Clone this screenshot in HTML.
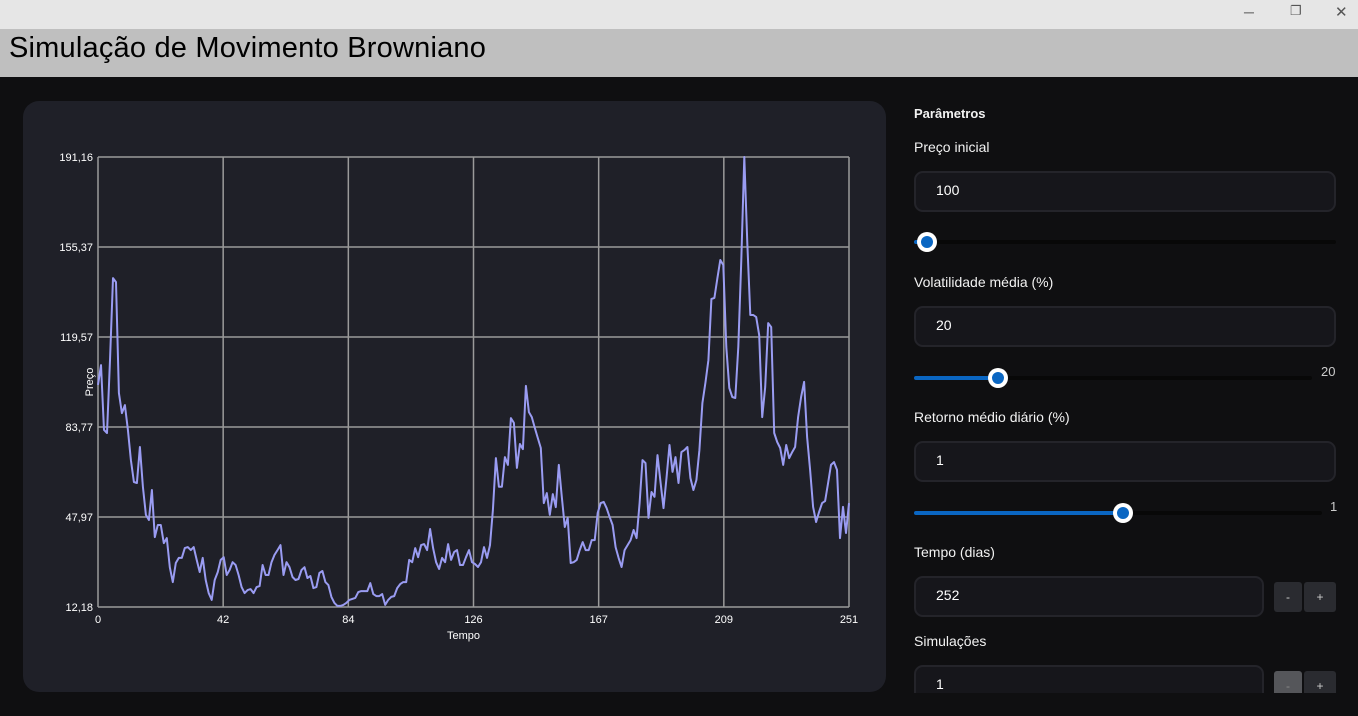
<!DOCTYPE html>
<html><head><meta charset="utf-8">
<style>
*{box-sizing:border-box;margin:0;padding:0}
body{width:1358px;height:716px;overflow:hidden;background:#0f0f11;font-family:"Segoe UI","Liberation Sans",sans-serif;position:relative;color:#fff}
.abs{position:absolute}
.lbl{position:absolute;left:914px;font-size:14px;color:#f2f2f2}
.inp{position:absolute;left:914px;width:422px;height:41px;background:#16161b;border:2px solid #24242a;border-radius:9px;font-size:14px;color:#fff;padding:9px 0 0 20px}
.track{position:absolute;height:4px;background:#080808;border-radius:2px}
.fill{position:absolute;height:4px;background:#0a66c2;border-radius:2px}
.thumb{position:absolute;width:20px;height:20px;border-radius:50%;background:#fff}
.thumb::after{content:"";position:absolute;left:4px;top:4px;width:12px;height:12px;border-radius:50%;background:#0a66c2}
.btn{position:absolute;width:28px;height:30px;background:#2a2b30;border-radius:3px;color:#ccc;font-size:12px;text-align:center;line-height:30px}
</style></head><body>
<div class="abs" style="left:0;top:0;width:1358px;height:29px;background:#e6e6e6">
<span class="abs" style="left:1244px;top:4px;color:#555;font-size:14px">─</span>
<span class="abs" style="left:1290px;top:3px;color:#555;font-size:13px">❐</span>
<span class="abs" style="left:1335px;top:3px;color:#555;font-size:15px">✕</span>
</div>
<div class="abs" style="left:0;top:29px;width:1358px;height:48px;background:#bfbfbf">
<div class="abs" style="left:9px;top:3px;font-size:29px;color:#000;letter-spacing:0.2px">Simulação de Movimento Browniano</div>
</div>
<div class="abs" style="left:23px;top:101px;width:863px;height:591px;background:#1f2028;border-radius:16px"></div>
<svg class="abs" id="chart" style="left:0;top:0" width="1358" height="716"></svg>

<div class="lbl" style="top:106px;font-weight:bold;font-size:13px">Parâmetros</div>
<div class="lbl" style="top:139px">Preço inicial</div>
<div class="inp" style="top:171px">100</div>
<div class="track" style="left:914px;top:240px;width:422px"></div>
<div class="fill" style="left:914px;top:240px;width:12px"></div>
<div class="thumb" style="left:917px;top:232px"></div>

<div class="lbl" style="top:274px">Volatilidade média (%)</div>
<div class="inp" style="top:306px">20</div>
<div class="track" style="left:914px;top:376px;width:398px"></div>
<div class="fill" style="left:914px;top:376px;width:84px"></div>
<div class="thumb" style="left:988px;top:368px"></div>
<div class="abs" style="left:1321px;top:364px;font-size:13px;color:#ccc">20</div>

<div class="lbl" style="top:409px">Retorno médio diário (%)</div>
<div class="inp" style="top:441px">1</div>
<div class="track" style="left:914px;top:511px;width:408px"></div>
<div class="fill" style="left:914px;top:511px;width:209px"></div>
<div class="thumb" style="left:1113px;top:503px"></div>
<div class="abs" style="left:1330px;top:499px;font-size:13px;color:#ccc">1</div>

<div class="lbl" style="top:544px">Tempo (dias)</div>
<div class="inp" style="top:576px;width:350px">252</div>
<div class="btn" style="left:1274px;top:582px">-</div>
<div class="btn" style="left:1304px;top:582px;width:32px">+</div>

<div class="lbl" style="top:633px">Simulações</div>
<div class="abs" style="left:900px;top:660px;width:458px;height:33px;overflow:hidden">
<div class="inp" style="left:14px;top:5px;width:350px">1</div>
<div class="btn" style="left:374px;top:11px;background:#55565a;color:#888">-</div>
<div class="btn" style="left:404px;top:11px;width:32px">+</div>
</div>

<script>
const yTicks=[12.18,47.97,83.77,119.57,155.37,191.16];
const yTickLabels=["12,18","47,97","83,77","119,57","155,37","191,16"];
const xTickLabels=["0","42","84","126","167","209","251"];
const prices=[100.5,108.4,82.6,81.4,110.4,143,141.4,97.3,89.3,92.5,82.6,70.6,61.9,61.5,75.8,60,48.8,46.8,58.7,40,44.8,44.8,37.6,39.6,28,22.1,29.7,31.7,31.7,35.6,36,34.8,36,30.9,26.1,31.7,22.9,17.7,15,22.9,26,30.9,32,24.9,26.9,30,28.9,24.9,20.1,17.7,18.9,19.3,17.7,20.1,20.5,28.9,24.9,24.9,30,32.9,34.8,36.8,24.9,30,28,24.1,22.9,23.3,26.9,28,23.7,24.5,19.7,20.1,25.7,26.5,22.1,20.9,16.2,13.8,12.6,12.6,13,13.8,15,15.4,15.8,18.1,18.5,18.5,18.5,21.7,17.3,16.5,16.5,17.3,13,15,16.2,16.5,19.7,21.3,22.1,22.1,30.9,30,35.6,32,36.8,37.2,34.8,43.2,35.6,30,27.3,31.7,30,37.2,30.9,34,34.8,28.9,28.9,32,34.8,30,29.3,28.1,30,36,31.7,36.8,50.8,71.4,60,60,71.8,68.7,87.3,85.4,67.5,77,75,100.1,89.7,87.7,83.4,79.4,75.4,53.5,57.5,48.8,57.1,51.9,68.7,56,44,47.6,29.7,30,30.9,34.8,38,34.8,34.8,38.8,38.8,49.6,53.5,54,51.5,48,44.8,36,31.7,28.1,34.8,36.8,38.8,42.8,39.6,53.5,70.6,69.4,47.6,57.9,56,72.6,61.9,51.5,63.5,76.6,65.9,71.8,61.5,73.8,74.6,75.8,63.5,58.7,62.7,74.6,93.3,101.3,110.4,134.7,135.1,143,150.2,148.2,115.6,99.3,95.7,95.3,115.6,150.2,191.16,157,128.3,128.3,127.5,120.3,87.7,99.7,125.1,123.5,81.4,77.8,75.4,68.7,76.6,71.4,73.8,75.8,87.7,95.7,101.7,79.8,66.7,52,46,50,53.5,54.3,61.5,68.7,69.8,66.7,39.6,52,41.6,53.5];
const L=98,R=849,T=157,B=607;
const xMin=0,xMax=prices.length-1,yMin=yTicks[0],yMax=yTicks[yTicks.length-1];
const sx=v=>L+(v-xMin)/(xMax-xMin)*(R-L);
const sy=v=>B-(v-yMin)/(yMax-yMin)*(B-T);
const svg=document.getElementById('chart');
const NS='http://www.w3.org/2000/svg';
function mk(tag,attrs){const e=document.createElementNS(NS,tag);for(const k in attrs)e.setAttribute(k,attrs[k]);svg.appendChild(e);return e;}
yTicks.forEach((t,i)=>{
 const g=mk('line',{x1:L,x2:R,y1:sy(t),y2:sy(t),stroke:'#9a9a9a','stroke-width':1.5});
 
 
 const tx=mk('text',{x:L-5,y:sy(t)+4,'text-anchor':'end',fill:'#fff','font-size':11,'font-family':'Liberation Sans, sans-serif'});
 tx.textContent=yTickLabels[i];
 
 
});
xTickLabels.forEach((lab,i)=>{
 const xv=xMin+(xMax-xMin)*i/(xTickLabels.length-1);
 const g=mk('line',{x1:sx(xv),x2:sx(xv),y1:T,y2:B,stroke:'#9a9a9a','stroke-width':1.5});
 
 
 const tx=mk('text',{x:sx(xv),y:B+16,'text-anchor':'middle',fill:'#fff','font-size':11,'font-family':'Liberation Sans, sans-serif'});
 tx.textContent=lab;
 
 
});
const xt=mk('text',{x:(L+R)/2-10,y:B+32,'text-anchor':'middle',fill:'#fff','font-size':11,'font-family':'Liberation Sans, sans-serif'});
xt.textContent='Tempo';


const yt=mk('text',{x:0,y:0,'text-anchor':'middle',fill:'#fff','font-size':11,'font-family':'Liberation Sans, sans-serif',transform:'translate(93,382) rotate(-90)'});
yt.textContent='Preço';


const pts=prices.map((v,i)=>sx(i).toFixed(1)+','+sy(v).toFixed(1)).join(' ');
const pl=mk('polyline',{points:pts,fill:'none',stroke:'#9a9cf2','stroke-width':2,'stroke-linejoin':'round'});


</script>
</body></html>
